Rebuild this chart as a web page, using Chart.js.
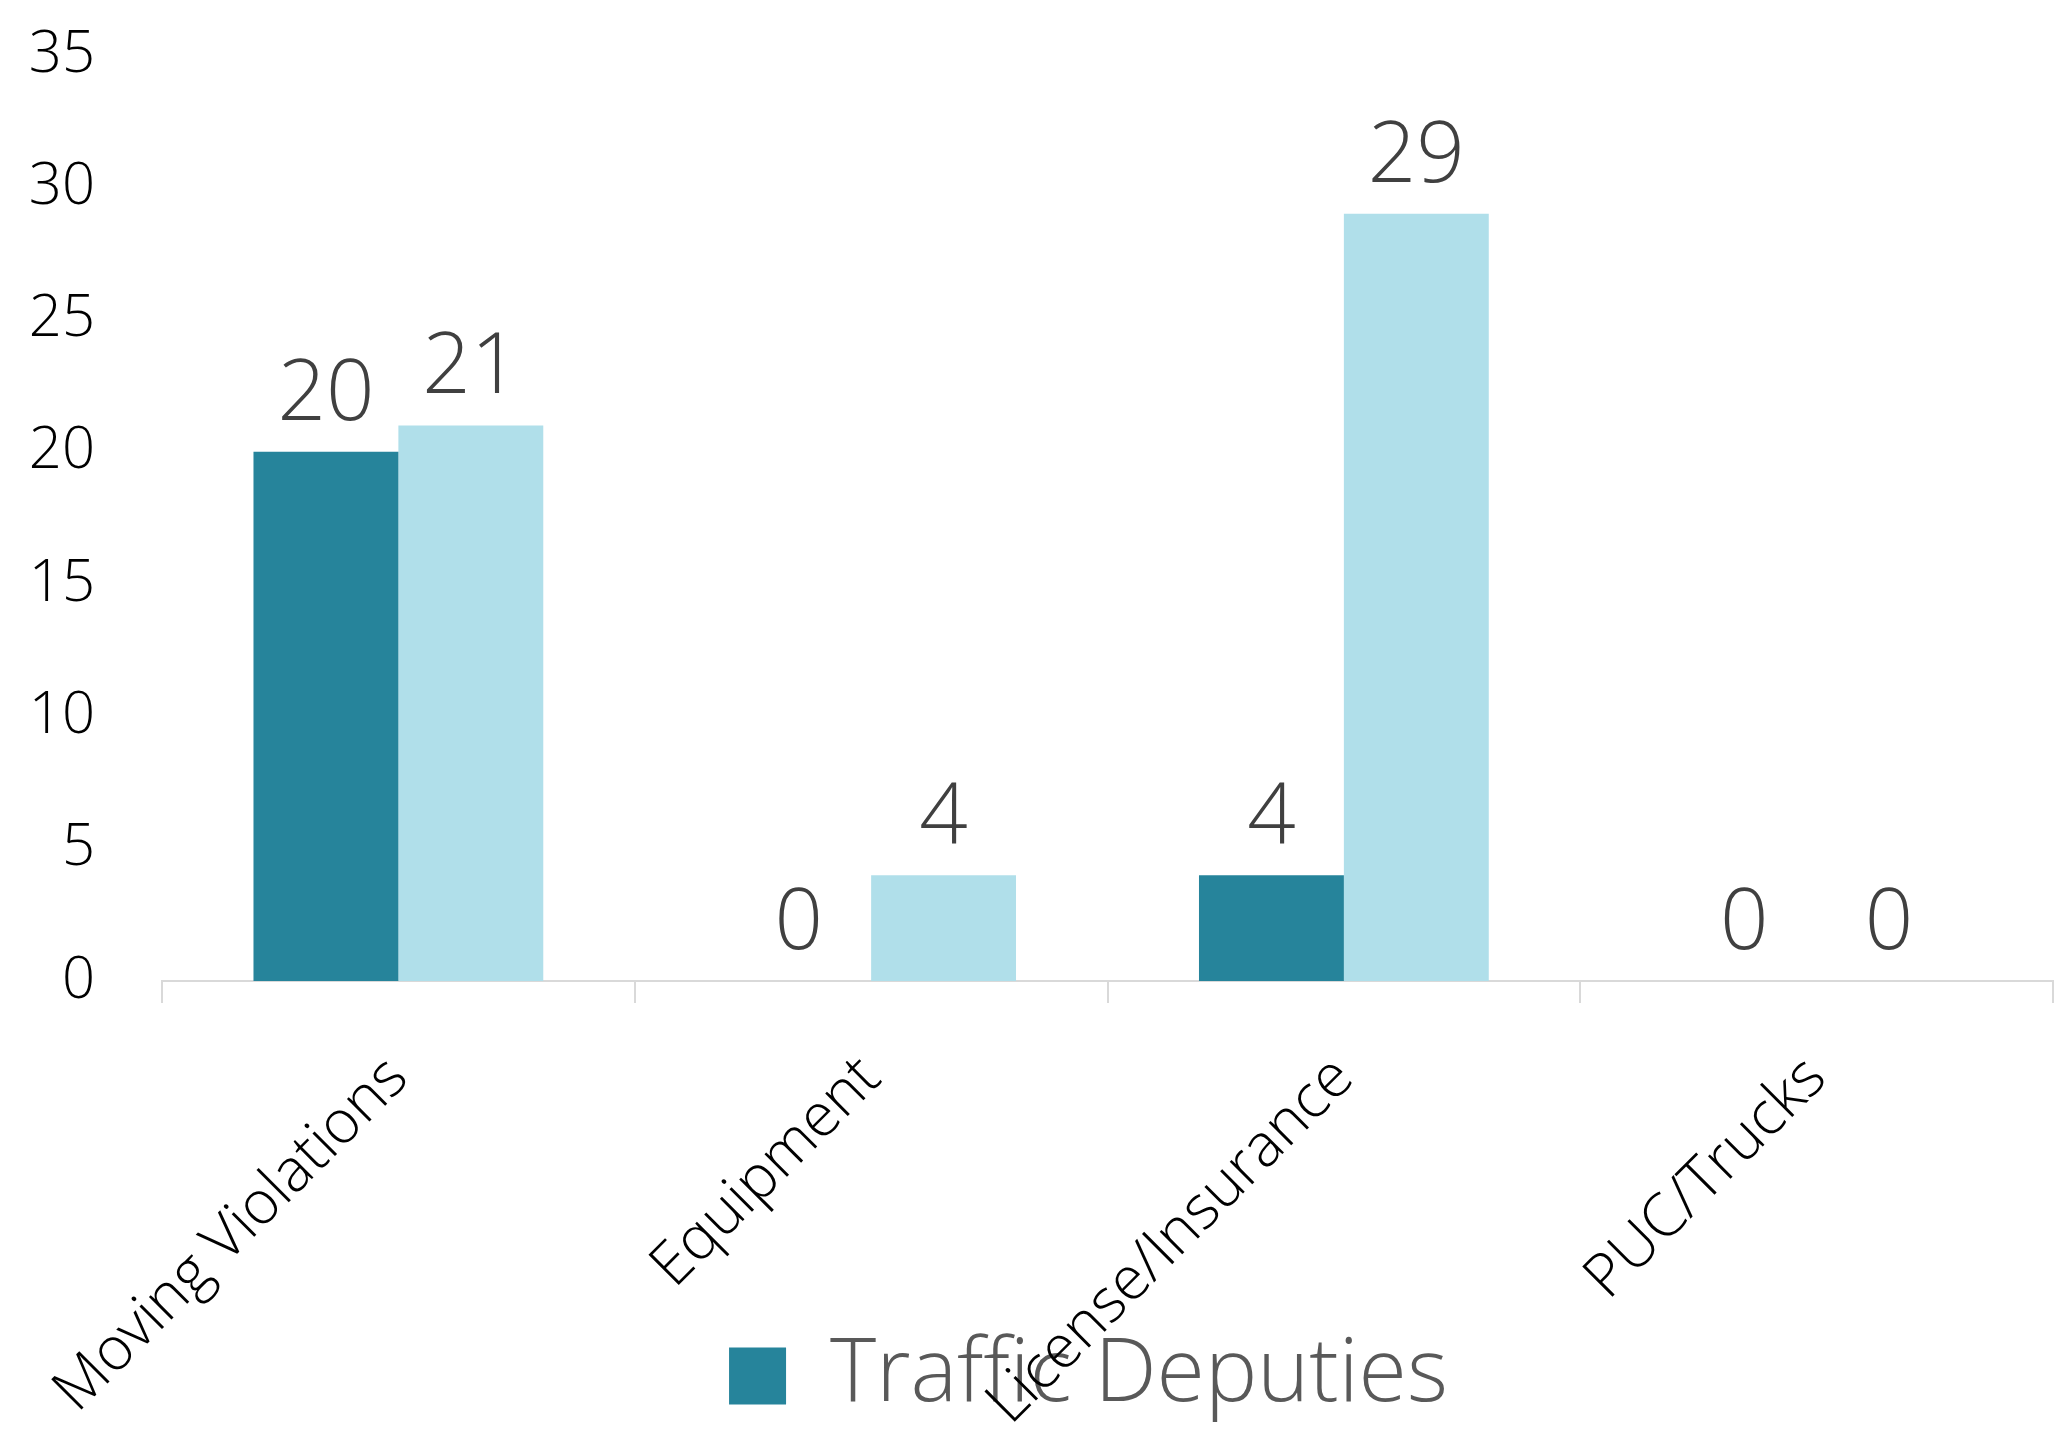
<!DOCTYPE html>
<html>
<head>
<meta charset="utf-8">
<script src="https://cdn.jsdelivr.net/npm/chart.js@4"></script>
<style>
	html, body { margin: 0; padding: 0; background: #fff; }
	#wrap { width: 2056px; height: 1441px; }
</style>
</head>
<body>
<div id="wrap"><canvas id="chart-bar"></canvas></div>
<script>
// Data
const categories = ['Moving Violations', 'Equipment', 'License/Insurance', 'PUC/Trucks'];
const trafficDeputies = [20, 0, 4, 0];
const otherDeputies = [21, 4, 29, 0];
const yTicks = [0, 5, 10, 15, 20, 25, 30, 35];

const FONT = "'Open Sans', 'Segoe UI', sans-serif";

// value labels above each bar
const barValues = {
	id: 'barValues',
	afterDatasetsDraw(chart) {
		const ctx = chart.ctx;
		ctx.save();
		ctx.font = '300 85px ' + FONT;
		ctx.fillStyle = '#404040';
		ctx.textAlign = 'center';
		ctx.textBaseline = 'alphabetic';
		chart.data.datasets.forEach((ds, i) => {
			chart.getDatasetMeta(i).data.forEach((bar, j) => {
				ctx.fillText(String(ds.data[j]), bar.x, bar.y - 32);
			});
		});
		ctx.restore();
	},
};

// let the axis labels run past their boxes (the category names overlap the legend)
const noLabelClip = {
	id: 'noLabelClip',
	afterLayout(chart) {
		chart.scales.x.bottom = chart.height;
		chart.scales.y.left = 0;
	},
};

!(function () {
	const ctx = document.getElementById('chart-bar');

	new Chart(ctx, {
		type: 'bar',
		data: {
			labels: categories,
			datasets: [
				{
					label: 'Traffic Deputies',
					data: trafficDeputies,
					backgroundColor: '#26849B',
					categoryPercentage: 0.613,
					barPercentage: 1,
				},
				{
					label: 'Patrol Deputies',
					data: otherDeputies,
					backgroundColor: '#B0DFEA',
					categoryPercentage: 0.613,
					barPercentage: 1,
				},
			],
		},
		plugins: [barValues, noLabelClip],
		options: {
			responsive: true,
			maintainAspectRatio: false,
			animation: false,
			layout: {
				padding: { top: 55, right: 3, bottom: 11, left: 124 },
			},
			scales: {
				x: {
					grid: {
						offset: true,
						drawOnChartArea: false,
						drawTicks: true,
						tickLength: 22,
						color: '#D9D9D9',
						lineWidth: 2,
					},
					border: { display: true, color: '#D9D9D9', width: 2 },
					ticks: {
						color: '#000',
						font: { family: FONT, size: 60, weight: '300' },
						minRotation: 45,
						maxRotation: 45,
						padding: 40,
					},
					afterFit: (s) => {
						s.height = 341;
					},
				},
				y: {
					min: 0,
					max: 35,
					grid: { display: false, drawTicks: false },
					border: { display: false },
					afterBuildTicks: (s) => {
						s.ticks = yTicks.map((v) => ({ value: v }));
					},
					ticks: {
						color: '#000',
						font: { family: FONT, size: 58, weight: '300' },
						padding: 67,
					},
					afterFit: (s) => {
						s.width = 38;
						s.paddingTop = 0;
						s.paddingBottom = 0;
					},
				},
			},
			plugins: {
				tooltip: { enabled: false },
				legend: {
					position: 'bottom',
					labels: {
						filter: (item) => item.datasetIndex === 0,
						boxWidth: 57,
						boxHeight: 57,
						padding: 10,
						color: '#595959',
						font: { family: FONT, size: 88, weight: '300' },
					},
				},
			},
		},
	});
})();
</script>
</body>
</html>
